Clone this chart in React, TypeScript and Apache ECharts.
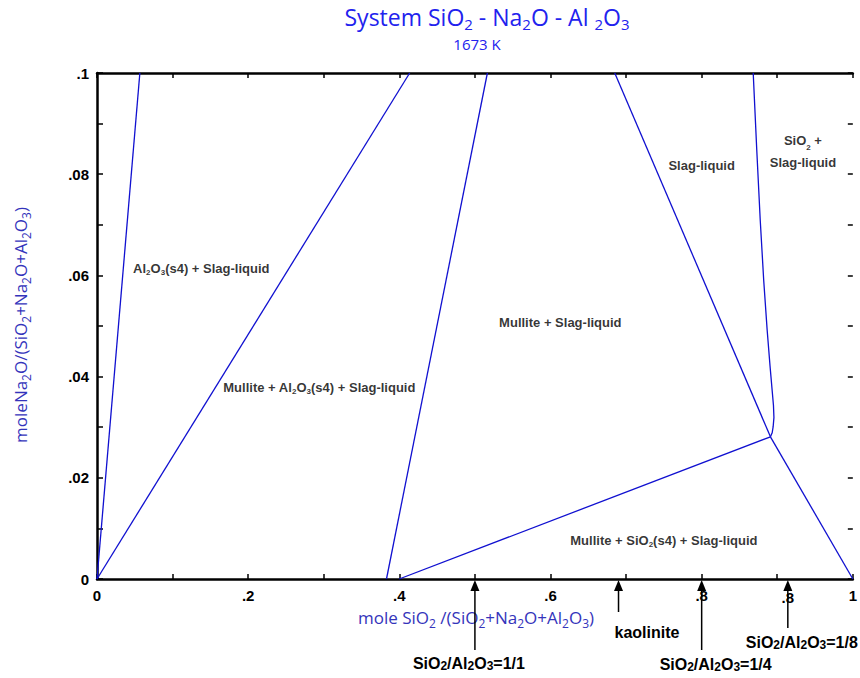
import React, { useEffect, useRef } from "react";
import * as echarts from "echarts";

// ---- data ----
const lineAl2O3: number[][] = [[0, 0], [0.0567, 0.1]];
const lineMulliteLeft: number[][] = [[0, 0], [0.4137, 0.1]];
const lineMulliteRight: number[][] = [[0.383, 0], [0.5165, 0.1]];
const lineSiO2Mullite: number[][] = [[0.3998, 0], [0.891, 0.0281]];
const lineSlagUpper: number[][] = [[0.685, 0.1], [0.891, 0.0281]];
const lineSlagLower: number[][] = [[0.891, 0.0281], [1, 0]];
const lineSiO2Liquidus: number[][] = [
  [0.8682, 0.1],
  [0.8729, 0.0848],
  [0.8775, 0.0709],
  [0.8821, 0.059],
  [0.8867, 0.0491],
  [0.8904, 0.0422],
  [0.8933, 0.0372],
  [0.895, 0.0343],
  [0.8956, 0.0319],
  [0.8946, 0.0301],
  [0.8933, 0.0289],
  [0.891, 0.0281],
];
const regionLabels = [
  { x: 0.138, y: 0.0614, text: "{b|Al}{s|2}{b|O}{s|3}{b|(s4) + Slag-liquid}" },
  { x: 0.294, y: 0.0378, text: "{b|Mullite + Al}{s|2}{b|O}{s|3}{b|(s4) + Slag-liquid}" },
  { x: 0.613, y: 0.0507, text: "{b|Mullite + Slag-liquid}" },
  { x: 0.8, y: 0.0818, text: "{b|Slag-liquid}" },
  { x: 0.934, y: 0.0844, text: "{c|SiO}{t|2}{c| +}\n{c|Slag-liquid}" },
  { x: 0.75, y: 0.0077, text: "{b|Mullite + SiO}{s|2}{b|(s4) + Slag-liquid}" },
];
const arrowXs = [0.5, 0.69, 0.8, 0.914];
const arrowLabels = [
  "{m|SiO}{d|2}{m|/Al}{d|2}{m|O}{d|3}{m|=1/1}",
  "{m|kaolinite}",
  "{m|SiO}{d|2}{m|/Al}{d|2}{m|O}{d|3}{m|=1/4}",
  "{m|SiO}{d|2}{m|/Al}{d|2}{m|O}{d|3}{m|=1/8}",
];
const extraTickLabel = ".8";

const BLUE_LINE = "#1010d0";
const ARIAL = "'Liberation Sans', Arial, sans-serif";
const ROUND = "'Open Sans', 'DejaVu Sans', sans-serif";

function xFmt(v: number) {
  const r = Math.round(v * 10);
  if (r % 2 !== 0) return "";
  if (r === 0) return "0";
  if (r === 10) return "1";
  return "." + r;
}
function yFmt(v: number) {
  const r = Math.round(v * 100);
  if (r % 2 !== 0) return "";
  if (r === 0) return "0";
  if (r === 10) return ".1";
  return "." + String(r).padStart(2, "0");
}

const lineSeries = (data: number[][]) => ({
  type: "line",
  data,
  showSymbol: false,
  symbol: "none",
  smooth: false,
  lineStyle: { color: BLUE_LINE, width: 1.3, join: "round" },
  silent: true,
  z: 3,
});

export default function App() {
  const ref = useRef<HTMLDivElement>(null);
  useEffect(() => {
    if (!ref.current) return;
    const chart = echarts.init(ref.current, null, { renderer: "svg" });
    const tickStyle = { color: "#000", width: 1.5 };
    chart.setOption({
      animation: false,
      backgroundColor: "#fff",
      grid: { left: 97, right: 4, top: 73, bottom: 99, containLabel: false },
      xAxis: [
        {
          type: "value",
          min: 0,
          max: 1,
          interval: 0.1,
          position: "bottom",
          splitLine: { show: false },
          axisLine: { show: true, onZero: false, lineStyle: { color: "#000", width: 2.5 } },
          axisTick: { show: true, inside: true, length: 5, lineStyle: tickStyle },
          axisLabel: {
            formatter: xFmt,
            color: "#000",
            fontFamily: ARIAL,
            fontWeight: "bold",
            fontSize: 15,
            margin: 9,
          },
        },
        {
          type: "value",
          min: 0,
          max: 1,
          interval: 0.1,
          position: "top",
          splitLine: { show: false },
          axisLine: { show: true, onZero: false, lineStyle: { color: "#000", width: 2.5 } },
          axisTick: { show: true, inside: true, length: 5, lineStyle: tickStyle },
          axisLabel: { show: false },
        },
      ],
      yAxis: [
        {
          type: "value",
          min: 0,
          max: 0.1,
          interval: 0.01,
          position: "left",
          splitLine: { show: false },
          axisLine: { show: true, onZero: false, lineStyle: { color: "#000", width: 2.5 } },
          axisTick: { show: true, inside: true, length: 6, lineStyle: tickStyle },
          axisLabel: {
            formatter: yFmt,
            color: "#000",
            fontFamily: ARIAL,
            fontWeight: "bold",
            fontSize: 15,
            margin: 8,
          },
        },
        {
          type: "value",
          min: 0,
          max: 0.1,
          interval: 0.01,
          position: "right",
          splitLine: { show: false },
          axisLine: { show: false, onZero: false },
          axisTick: { show: true, inside: true, length: 5, lineStyle: tickStyle },
          axisLabel: { show: false },
        },
      ],
      series: [
        lineSeries(lineAl2O3),
        lineSeries(lineMulliteLeft),
        lineSeries(lineMulliteRight),
        lineSeries(lineSiO2Mullite),
        lineSeries(lineSlagUpper),
        lineSeries(lineSlagLower),
        lineSeries(lineSiO2Liquidus),
        {
          type: "scatter",
          symbolSize: 0,
          silent: true,
          z: 5,
          data: regionLabels.map((r) => ({ value: [r.x, r.y], text: r.text })),
          label: {
            show: true,
            position: "inside",
            formatter: (p: any) => p.data.text,
            align: "center",
            verticalAlign: "middle",
            rich: {
              b: { fontFamily: ARIAL, fontWeight: "bold", fontSize: 13, color: "#000", lineHeight: 16 },
              s: { fontFamily: ARIAL, fontWeight: "bold", fontSize: 8, color: "#000", lineHeight: 10, verticalAlign: "bottom" },
              c: { fontFamily: ARIAL, fontWeight: "bold", fontSize: 13, color: "#000", lineHeight: 22 },
              t: { fontFamily: ARIAL, fontWeight: "bold", fontSize: 8, color: "#000", lineHeight: 16, verticalAlign: "bottom" },
            },
          },
        },
      ],
    });

    const axisY = chart.convertToPixel({ yAxisIndex: 0 }, 0) as number;
    const tails = [650, 612, 650, 628];
    const labelPos = [
      { dx: -6, y: 663, align: "center" },
      { dx: -4, y: 632, align: "left" },
      { dx: 14, y: 664, align: "center" },
      { dx: 14, y: 642, align: "center" },
    ];
    const armRich = {
      m: { fontFamily: ARIAL, fontWeight: "bold", fontSize: 16, fill: "#000", lineHeight: 18 },
      d: { fontFamily: ARIAL, fontWeight: "bold", fontSize: 12, fill: "#000", lineHeight: 14, verticalAlign: "bottom" },
    };
    const graphics: any[] = [];
    arrowXs.forEach((v, i) => {
      const px = chart.convertToPixel({ xAxisIndex: 0 }, v) as number;
      const tip = axisY + 1;
      graphics.push({
        type: "line",
        shape: { x1: px, y1: tails[i], x2: px, y2: tip + 8 },
        style: { stroke: "#000", lineWidth: 1.5 },
        z: 10,
      });
      graphics.push({
        type: "polygon",
        shape: { points: [[px - 4.5, tip + 11], [px + 4.5, tip + 11], [px, tip]] },
        style: { fill: "#000" },
        z: 10,
      });
      graphics.push({
        type: "text",
        x: px + labelPos[i].dx,
        y: labelPos[i].y,
        style: {
          text: arrowLabels[i],
          rich: armRich,
          textAlign: labelPos[i].align,
          textVerticalAlign: "middle",
        },
        z: 10,
      });
    });
    const px8 = chart.convertToPixel({ xAxisIndex: 0 }, arrowXs[3]) as number;
    graphics.push({
      type: "text",
      x: px8,
      y: axisY + 18,
      style: {
        text: extraTickLabel,
        font: `bold 15px ${ARIAL}`,
        fill: "#000",
        textAlign: "center",
        textVerticalAlign: "middle",
      },
      z: 9,
    });
    // title
    graphics.push({
      type: "text",
      x: 487,
      y: 17,
      style: {
        text: "{a|System SiO}{s|2}{a| - Na}{s|2}{a|O - Al }{s|2}{a|O}{s|3}",
        rich: {
          a: { fontFamily: ROUND, fontSize: 23, fill: "#2222ee", lineHeight: 28 },
          s: { fontFamily: ROUND, fontSize: 15, fill: "#2222ee", lineHeight: 14, verticalAlign: "bottom" },
        },
        textAlign: "center",
        textVerticalAlign: "middle",
      },
    });
    graphics.push({
      type: "text",
      x: 477,
      y: 44,
      style: {
        text: "1673 K",
        font: `15px ${ROUND}`,
        fill: "#2222ee",
        textAlign: "center",
        textVerticalAlign: "middle",
      },
    });
    const nameRich = {
      a: { fontFamily: ROUND, fontSize: 17, fill: "#3434bb", lineHeight: 24 },
      s: { fontFamily: ROUND, fontSize: 12, fill: "#3434bb", lineHeight: 13, verticalAlign: "bottom" },
    };
    graphics.push({
      type: "text",
      x: 476,
      y: 617,
      style: {
        text: "{a|mole SiO}{s|2}{a| /(SiO}{s|2}{a|+Na}{s|2}{a|O+Al}{s|2}{a|O}{s|3}{a|)}",
        rich: nameRich,
        textAlign: "center",
        textVerticalAlign: "middle",
      },
    });
    graphics.push({
      type: "text",
      x: 20,
      y: 325,
      rotation: Math.PI / 2,
      style: {
        text: "{a|moleNa}{s|2}{a|O/(SiO}{s|2}{a|+Na}{s|2}{a|O+Al}{s|2}{a|O}{s|3}{a|)}",
        rich: nameRich,
        textAlign: "center",
        textVerticalAlign: "middle",
      },
    });
    chart.setOption({ graphic: graphics });
    return () => chart.dispose();
  }, []);
  return (
    <div
      ref={ref}
      style={{ position: "absolute", left: 0, top: 0, width: 860, height: 678 }}
    />
  );
}
